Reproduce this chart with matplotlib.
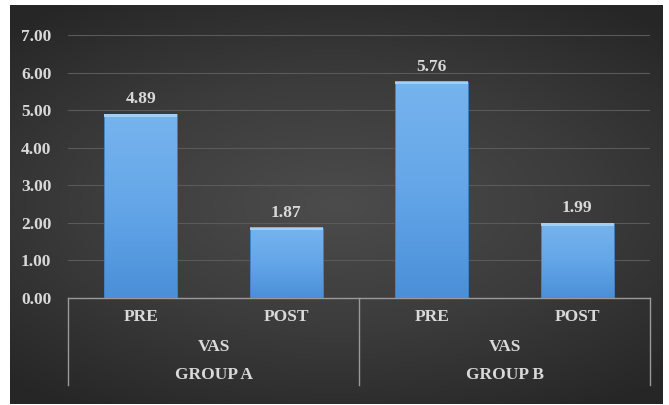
import numpy as np
import matplotlib.pyplot as plt
from matplotlib.colors import LinearSegmentedColormap

groups = ["GROUP A", "GROUP B"]
measure = "VAS"
phases = ["PRE", "POST"]
values = [4.89, 1.87, 5.76, 1.99]
yticks = [0, 1, 2, 3, 4, 5, 6, 7]

plt.rcParams["font.family"] = ["Liberation Serif", "DejaVu Serif"]
plt.rcParams["font.weight"] = "bold"
txt = "#d9d9d9"
fs = 12.5

fig = plt.figure(figsize=(6.69, 4.05), dpi=100, facecolor="white")

# dark radial background panel
bg = fig.add_axes([10 / 669, 1 - 404 / 405, 653 / 669, 399 / 405])
yy, xx = np.mgrid[-1:1:300j, -1:1:500j]
r = np.sqrt((xx * 0.9) ** 2 + (yy * 1.1) ** 2)
bg_cmap = LinearSegmentedColormap.from_list("bg", ["#4c4c4c", "#3c3c3c", "#262626"])
bg.imshow(r, cmap=bg_cmap, aspect="auto", extent=[0, 1, 0, 1], vmin=0, vmax=1.35)
bg.axis("off")

ax = fig.add_axes([68 / 669, 1 - 298 / 405, 582 / 669, 263 / 405])
ax.patch.set_alpha(0)
x = np.arange(len(values))
bars = ax.bar(x, values, width=0.5, color="none", zorder=3)
ax.set_xlim(-0.5, len(values) - 0.5)
ax.set_ylim(0, 7)

bar_cmap = LinearSegmentedColormap.from_list("bar", ["#4a8fd8", "#64a6e8", "#76b4ee"])
grad = np.linspace(0, 1, 256).reshape(-1, 1)
for b in bars:
    x0, w, h = b.get_x(), b.get_width(), b.get_height()
    ax.imshow(grad, cmap=bar_cmap, origin="lower", aspect="auto",
              extent=[x0, x0 + w, 0, h], zorder=3)
    ax.add_patch(plt.Rectangle((x0, 0), w, h, fill=False, ec="#4580c0", lw=0.7, zorder=4))
    ax.add_patch(plt.Rectangle((x0, h - 0.07), w, 0.07, color="#a0d0f8", zorder=5, lw=0))
    ax.annotate(f"{h:.2f}", (x0 + w / 2, h), xytext=(0, 5), textcoords="offset points",
                ha="center", va="bottom", color=txt, fontsize=fs, fontweight="bold")

ax.set_yticks(yticks)
ax.set_yticklabels([f"{t:.2f}" for t in yticks], color=txt, fontsize=fs, fontweight="bold")
ax.tick_params(axis="y", length=0, pad=12)
ax.set_xticks([])
ax.grid(axis="y", color="#5a5a5a", lw=0.8, zorder=0)
for s in ["left", "right", "top"]:
    ax.spines[s].set_visible(False)
ax.spines["bottom"].set_color("#9a9a9a")
ax.spines["bottom"].set_linewidth(1.0)

# multi-level category labels
xt = ax.get_xaxis_transform()
for i, v in enumerate(values):
    ax.text(i, -0.072, phases[i % 2], transform=xt, ha="center",
            va="center", color=txt, fontsize=fs, fontweight="bold")
for g, name in enumerate(groups):
    cx = 2 * g + 0.5
    ax.text(cx, -0.186, measure, transform=xt, ha="center",
            va="center", color=txt, fontsize=fs, fontweight="bold")
    ax.text(cx, -0.293, name, transform=xt, ha="center",
            va="center", color=txt, fontsize=fs, fontweight="bold")
for sx in [-0.5, 1.5, 3.5]:
    ax.plot([sx, sx], [0, -0.331], transform=xt, color="#9a9a9a",
            lw=1.0, clip_on=False)

fig.savefig("out.png", dpi=100, facecolor="white")
